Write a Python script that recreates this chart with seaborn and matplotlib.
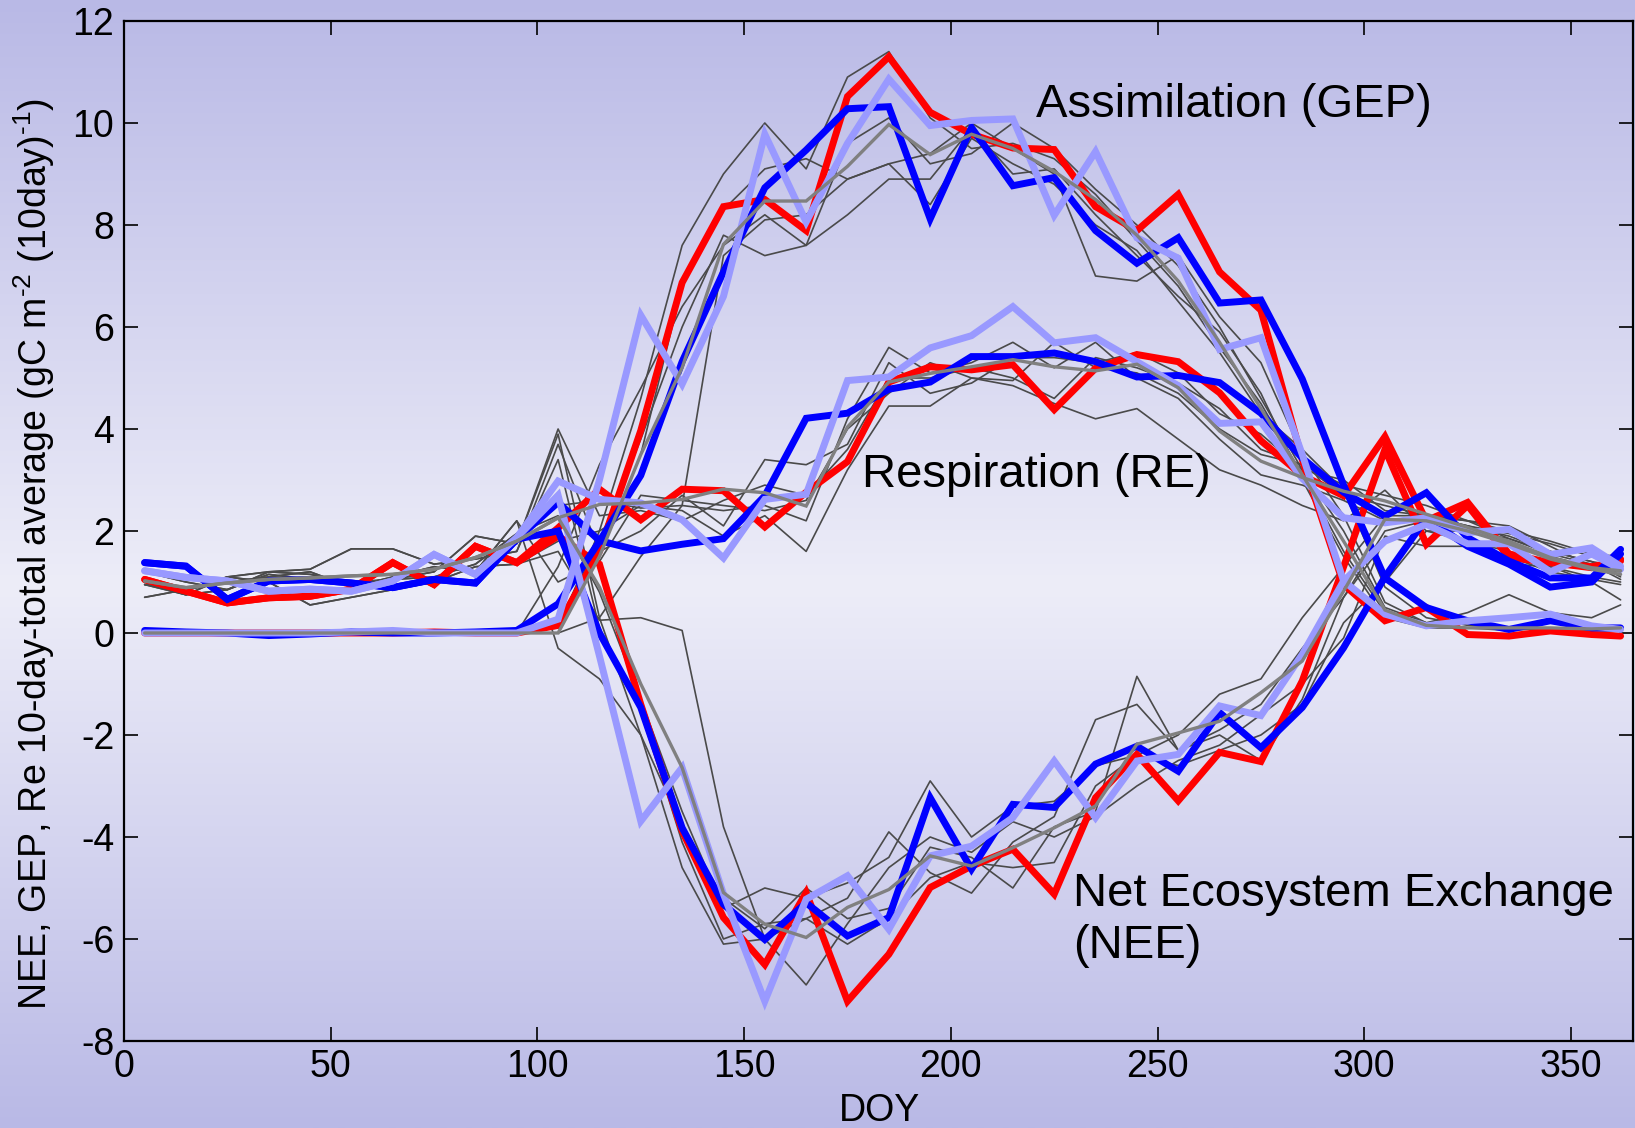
import numpy as np
import matplotlib
matplotlib.use("Agg")
import matplotlib.pyplot as plt
import seaborn as sns

sns.set_theme(style="ticks")
plt.rcParams["font.family"] = ["Liberation Sans", "DejaVu Sans"]
plt.rcParams["axes.unicode_minus"] = False
plt.rcParams["mathtext.fontset"] = "custom"
plt.rcParams["mathtext.rm"] = "Liberation Sans"
plt.rcParams["mathtext.default"] = "regular"
for key in ("text.color", "axes.labelcolor", "xtick.color", "ytick.color", "axes.edgecolor"):
    plt.rcParams[key] = "black"

# 10-day bins (day of year at bin centre)
doy = [5, 15, 25, 35, 45, 55, 65, 75, 85, 95, 105, 115, 125, 135, 145, 155, 165, 175, 185,
       195, 205, 215, 225, 235, 245, 255, 265, 275, 285, 295, 305, 315, 325, 335, 345, 355, 362]

# ---- highlighted years -------------------------------------------------------
gep_red = [0.0, 0.0, 0.0, 0.0, 0.0, 0.0, 0.0, 0.02, 0.0, 0.0, 0.15, 1.6, 3.97, 6.87, 8.36, 8.50,
           7.89, 10.52, 11.30, 10.21, 9.78, 9.51, 9.48, 8.36, 7.89, 8.60, 7.08, 6.33, 3.40, 0.95,
           0.24, 0.50, -0.03, -0.06, 0.04, -0.03, -0.06]
re_red = [1.05, 0.82, 0.59, 0.69, 0.72, 0.86, 1.38, 0.95, 1.70, 1.38, 2.06, 2.82, 2.22, 2.82, 2.79,
          2.08, 2.76, 3.36, 4.92, 5.22, 5.16, 5.26, 4.38, 5.19, 5.46, 5.32, 4.71, 3.77, 3.09, 2.69,
          3.85, 2.20, 2.56, 1.55, 1.38, 1.30, 1.41]
nee_red = [1.05, 0.82, 0.59, 0.69, 0.72, 0.86, 1.38, 0.95, 1.70, 1.38, 1.90, 1.35, -1.40, -3.88,
           -5.58, -6.50, -5.09, -7.22, -6.30, -4.99, -4.57, -4.24, -5.12, -3.23, -2.38, -3.29,
           -2.34, -2.52, -0.94, 1.30, 3.60, 1.74, 2.50, 1.48, 1.38, 1.28, 1.45]

gep_blue = [0.05, 0.02, 0.0, -0.05, -0.02, 0.02, 0.0, 0.0, 0.02, 0.05, 0.57, 1.80, 3.09, 5.32, 7.08,
            8.73, 9.47, 10.28, 10.32, 8.12, 9.91, 8.77, 8.93, 7.89, 7.25, 7.75, 6.47, 6.53, 4.98,
            2.90, 1.08, 0.50, 0.24, 0.07, 0.24, 0.10, 0.10]
re_blue = [1.38, 1.31, 0.66, 1.02, 1.05, 0.98, 0.89, 1.05, 0.98, 1.84, 2.56, 1.81, 1.61, 1.74, 1.85,
           2.69, 4.21, 4.31, 4.78, 4.92, 5.42, 5.42, 5.49, 5.32, 5.02, 5.05, 4.91, 4.31, 3.43, 2.76,
           2.29, 2.75, 1.87, 1.41, 1.08, 1.08, 1.64]
nee_blue = [1.38, 1.31, 0.66, 1.02, 1.05, 0.98, 0.89, 1.05, 0.98, 1.84, 2.00, 0.00, -1.46, -3.82,
            -5.32, -6.01, -5.29, -5.94, -5.58, -3.23, -4.63, -3.36, -3.42, -2.57, -2.22, -2.71,
            -1.56, -2.25, -1.46, -0.29, 1.10, 2.25, 1.70, 1.35, 0.90, 1.00, 1.55]

gep_lblue = [0.0, 0.0, 0.0, 0.0, 0.0, 0.02, 0.05, 0.0, 0.0, 0.0, 0.27, 3.00, 6.23, 4.88, 6.60, 9.78,
             8.06, 9.60, 10.86, 9.95, 10.05, 10.08, 8.19, 9.44, 7.75, 7.35, 5.56, 5.79, 3.50, 1.02,
             0.37, 0.14, 0.24, 0.30, 0.37, 0.14, 0.07]
re_lblue = [1.22, 1.09, 1.02, 0.82, 0.86, 0.82, 1.02, 1.54, 1.15, 1.87, 2.98, 2.62, 2.55, 2.22, 1.47,
            2.62, 2.72, 4.95, 5.02, 5.59, 5.83, 6.40, 5.69, 5.79, 5.32, 4.85, 4.11, 4.14, 3.03, 2.26,
            2.16, 2.26, 1.97, 2.03, 1.54, 1.67, 1.31]
nee_lblue = [1.22, 1.09, 1.02, 0.82, 0.86, 0.82, 1.02, 1.54, 1.15, 1.87, 2.70, -0.45, -3.69, -2.64,
             -5.12, -7.22, -5.22, -4.76, -5.81, -4.37, -4.18, -3.62, -2.51, -3.62, -2.51, -2.38,
             -1.43, -1.62, -0.42, 1.02, 1.80, 2.13, 1.75, 1.75, 1.20, 1.55, 1.25]

# ---- multi-year mean -----------------------------------------------------------
gep_mean = [0.0, 0.0, 0.0, 0.0, 0.0, 0.0, 0.0, 0.0, 0.0, 0.0, 0.00, 1.50, 3.50, 5.20, 7.62, 8.47,
            8.47, 9.15, 9.97, 9.38, 9.78, 9.50, 9.05, 8.50, 7.80, 6.90, 5.70, 4.40, 3.10, 1.80,
            0.45, 0.15, 0.10, 0.10, 0.10, 0.08, 0.10]
re_mean = [1.02, 0.89, 0.98, 1.05, 1.08, 1.12, 1.15, 1.25, 1.48, 1.80, 2.26, 2.52, 2.55, 2.62, 2.82,
           2.75, 2.49, 4.04, 4.92, 5.09, 5.22, 5.36, 5.22, 5.14, 5.27, 4.81, 3.96, 3.37, 3.05, 2.78,
           2.59, 2.33, 2.07, 1.80, 1.48, 1.28, 1.22]
nee_mean = [1.02, 0.89, 0.98, 1.05, 1.08, 1.12, 1.15, 1.25, 1.48, 1.80, 2.26, 0.90, -1.00, -2.64,
            -5.09, -5.71, -5.97, -5.38, -5.03, -4.37, -4.57, -4.21, -3.82, -3.39, -2.18, -1.96,
            -1.73, -1.17, -0.55, 0.82, 2.23, 2.20, 2.00, 1.75, 1.45, 1.25, 1.15]

# ---- other individual years (thin lines) ---------------------------------------
gep_y1 = [0.0] * 10 + [0.10, 2.00, 4.60, 7.60, 9.00, 10.00, 9.10, 10.90, 11.40, 10.10, 9.50, 9.60,
                       9.30, 8.60, 7.70, 6.80, 5.60, 4.50, 3.10, 1.60, 0.40, 0.15, 0.10, 0.05,
                       0.10, 0.05, 0.10]
gep_y2 = [0.0] * 10 + [0.30, 1.50, 3.50, 6.80, 8.30, 9.10, 9.30, 8.90, 9.20, 9.40, 10.00, 9.50,
                       9.00, 7.00, 6.90, 7.40, 6.20, 5.30, 3.50, 2.30, 0.60, 0.20, 0.40, 0.75,
                       0.40, 0.30, 0.55]
gep_y3 = [0.0] * 10 + [0.00, 0.30, 1.50, 2.50, 7.40, 8.10, 8.20, 8.90, 9.20, 8.40, 9.70, 9.20,
                       8.80, 8.00, 7.50, 6.50, 5.50, 4.30, 3.60, 2.80, 0.90, 0.30, 0.15, 0.10,
                       0.10, 0.05, 0.10]
gep_y4 = [0.0] * 10 + [0.20, 1.80, 3.80, 6.00, 7.80, 7.40, 7.60, 8.20, 8.90, 8.90, 9.90, 9.00,
                       9.10, 8.20, 7.40, 6.60, 5.90, 4.70, 3.00, 1.50, 0.30, 0.10, 0.10, 0.10,
                       0.05, 0.05, 0.05]
gep_y5 = [0.0] * 10 + [1.30, 3.30, 4.80, 6.40, 7.60, 8.20, 7.60, 9.60, 10.10, 9.20, 9.40, 10.00,
                       9.50, 8.70, 8.00, 7.20, 6.00, 4.60, 3.20, 2.00, 0.50, 0.20, 0.10, 0.10,
                       0.05, 0.05, 0.05]

re_y1 = [0.95, 0.75, 1.10, 1.20, 1.15, 1.00, 1.05, 1.20, 1.90, 1.75, 4.00, 2.30, 2.40, 2.20, 2.60,
         2.90, 2.70, 3.60, 5.00, 5.00, 5.20, 5.00, 4.60, 5.40, 5.20, 4.90, 4.40, 3.60, 3.30, 2.90,
         2.70, 2.50, 2.20, 2.00, 1.80, 1.55, 1.50]
re_y2 = [1.20, 1.00, 0.85, 1.20, 1.25, 1.65, 1.65, 1.35, 1.45, 1.60, 3.70, 1.60, 2.00, 2.70, 2.10,
         3.40, 3.30, 3.70, 5.30, 4.70, 4.90, 5.40, 5.40, 5.30, 5.50, 5.10, 4.30, 3.90, 3.20, 3.00,
         2.40, 2.30, 2.20, 2.10, 1.70, 1.30, 1.20]
re_y3 = [0.70, 0.85, 1.10, 1.00, 0.55, 0.70, 0.85, 1.00, 1.30, 1.35, 1.80, 2.00, 2.50, 2.40, 1.90,
         2.30, 1.60, 3.20, 4.45, 4.45, 5.00, 4.85, 4.50, 4.20, 4.40, 3.80, 3.20, 2.90, 2.50, 2.20,
         2.80, 2.00, 1.80, 1.60, 1.30, 1.10, 1.00]
re_y4 = [1.00, 0.75, 0.85, 1.15, 1.05, 0.95, 1.05, 1.10, 1.35, 1.95, 2.50, 2.60, 2.45, 2.50, 2.40,
         2.50, 2.20, 4.20, 5.60, 5.10, 5.30, 5.70, 5.20, 5.70, 5.00, 4.60, 3.80, 3.10, 2.90, 2.60,
         2.20, 2.30, 2.10, 1.90, 1.60, 1.40, 1.10]
re_y5 = [0.95, 0.85, 1.00, 1.10, 1.20, 0.90, 1.10, 1.30, 1.20, 2.20, 1.00, 1.40, 2.70, 2.60, 2.50,
         2.40, 2.60, 4.00, 4.70, 5.30, 5.00, 4.95, 5.70, 5.20, 5.10, 4.70, 4.00, 3.50, 3.30, 2.70,
         2.50, 2.30, 2.20, 1.85, 1.60, 1.40, 1.30]

nee_y1 = re_y1[:10] + [3.90, 0.30, -2.00, -4.60, -6.10, -6.00, -5.60, -6.10, -5.60, -4.80, -4.50,
                       -4.60, -4.50, -3.00, -2.40, -2.00, -1.20, -0.90, 0.30, 1.30, 2.30, 2.30,
                       2.10, 1.95, 1.75, 1.50, 1.40]
nee_y2 = re_y2[:10] + [3.40, 0.10, -1.50, -4.10, -6.00, -5.70, -5.60, -5.20, -3.90, -4.70, -5.10,
                       -4.10, -3.60, -1.70, -1.40, -2.30, -1.90, -1.40, -0.30, 0.70, 1.80, 2.10,
                       1.80, 1.35, 1.30, 1.00, 0.65]
nee_y3 = re_y3[:10] + [1.60, 0.25, 0.30, 0.05, -3.80, -6.00, -6.90, -5.70, -4.60, -4.00, -4.30,
                       -3.70, -4.00, -3.60, -3.00, -2.50, -2.20, -1.60, -1.00, -0.10, 1.90, 1.70,
                       1.70, 1.50, 1.20, 1.05, 0.95]
nee_y4 = re_y4[:10] + [2.30, 0.80, -1.30, -3.50, -5.40, -5.00, -5.20, -4.90, -4.40, -2.90, -4.00,
                       -3.40, -3.30, -2.60, -2.40, -2.60, -2.30, -2.00, -1.40, 0.20, 1.00, 2.00,
                       2.00, 1.85, 1.55, 1.35, 1.05]
nee_y5 = re_y5[:10] + [-0.30, -0.90, -2.00, -3.80, -5.20, -5.80, -5.00, -5.60, -5.40, -4.20, -4.40,
                       -5.00, -3.80, -3.50, -0.85, -2.30, -2.00, -2.50, -1.30, 0.70, 2.00, 2.20,
                       2.10, 1.80, 1.50, 1.30, 1.20]

# ---- figure -----------------------------------------------------------------------
W, H = 1635, 1128
fig = plt.figure(figsize=(W / 100, H / 100), dpi=100)

# lavender background, light in the middle and darker at top and bottom
bg = fig.add_axes([0, 0, 1, 1], zorder=-10)
rows = np.linspace(0, 1, H)
edge = np.array([185, 185, 230]) / 255
mid = np.array([237, 237, 248]) / 255
w = np.interp(rows, [0.0, 0.52, 1.0], [0.0, 1.0, 0.0])
grad = edge[None, :] * (1 - w[:, None]) + mid[None, :] * w[:, None]
bg.imshow(grad[:, None, :], aspect="auto", extent=[0, 1, 0, 1], interpolation="bilinear")
bg.set_axis_off()

L, R, T, B = 124, 1633, 21, 1041
ax = fig.add_axes([L / W, 1 - B / H, (R - L) / W, (B - T) / H])
ax.set_facecolor("none")

thin_kw = dict(color="#4a4a4a", linewidth=1.2, zorder=2)
for ys in (gep_y1, gep_y2, gep_y3, gep_y4, gep_y5,
           re_y1, re_y2, re_y3, re_y4, re_y5,
           nee_y1, nee_y2, nee_y3, nee_y4, nee_y5):
    sns.lineplot(x=doy, y=ys, ax=ax, legend=False, **thin_kw)

styles = [
    ("#ff0000", 5.0, 3, (gep_red, re_red, nee_red)),
    ("#0000ff", 5.0, 4, (gep_blue, re_blue, nee_blue)),
    ("#9999ff", 5.0, 5, (gep_lblue, re_lblue, nee_lblue)),
    ("#808080", 2.4, 6, (gep_mean, re_mean, nee_mean)),
]
for color, lw, z, series in styles:
    for ys in series:
        sns.lineplot(x=doy, y=ys, ax=ax, color=color, linewidth=lw, zorder=z,
                     legend=False, solid_joinstyle="miter")

ax.set_xlim(0, 365)
ax.set_ylim(-8, 12)
ax.set_xticks(range(0, 351, 50))
ax.set_yticks(range(-8, 13, 2))
ax.set_xlabel("")
ax.set_ylabel("")
ax.tick_params(direction="in", length=10, width=1.2, top=True, right=True,
               labelsize=27, colors="black", labelcolor="black")
ax.tick_params(axis="x", pad=6)
ax.tick_params(axis="y", pad=7)
for s in ax.spines.values():
    s.set_linewidth(1.6)
    s.set_color("black")

ax.text(220.6, 10.35, "Assimilation (GEP)", fontsize=34, ha="left", va="center",
        color="black", zorder=10)
ax.text(178.5, 3.1, "Respiration (RE)", fontsize=34, ha="left", va="center",
        color="black", zorder=10)
ax.text(229.5, -5.63, "Net Ecosystem Exchange\n(NEE)", fontsize=34, ha="left", va="center",
        linespacing=1.25, color="black", zorder=10)

fig.text(34.5 / W, 1 - 554 / H,
         "NEE, GEP, Re 10-day-total average (gC m$^{\u20102}$ (10day)$^{\u20101}$)",
         rotation=90, ha="center", va="center", fontsize=27, color="black")
fig.text(879 / W, 1 - 1111 / H, "DOY", ha="center", va="center", fontsize=27, color="black")

fig.savefig("out.png", dpi=100)
